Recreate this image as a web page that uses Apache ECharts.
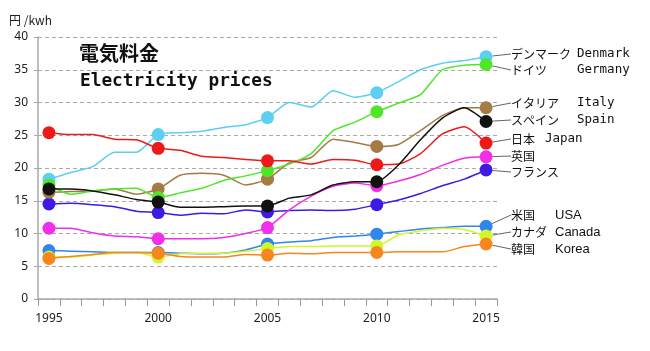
<!DOCTYPE html>
<html>
<head>
<meta charset="utf-8">
<script src="https://cdn.jsdelivr.net/npm/echarts@6/dist/echarts.min.js"></script>
<style>
html, body { margin: 0; padding: 0; background: #fff; }
#main { width: 650px; height: 351px; }
</style>
</head>
<body>
<div id="main"></div>
<script>
// data (円/kWh)
const years = ['1995','1996','1997','1998','1999','2000','2001','2002','2003','2004','2005',
  '2006','2007','2008','2009','2010','2011','2012','2013','2014','2015'];
const yTicks = { min: 0, max: 40, step: 5 };

const jpNames = ['デンマーク', 'ドイツ', 'イタリア', 'スペイン', '日本', '英国', 'フランス', '米国', 'カナダ', '韓国'];
const enNames = ['Denmark', 'Germany', 'Italy', 'Spain', 'Japan', '', '', 'USA', 'Canada', 'Korea'];

const denmark = [18.3, 19.3, 20.2, 22.4, 22.4, 25.1, 25.4, 25.6, 26.2, 26.6, 27.7, 30.0, 29.3, 31.8, 30.8, 31.5, 33.2, 35.0, 36.0, 36.4, 37.0];
const germany = [17.4, 16.0, 16.5, 16.8, 16.9, 15.5, 16.2, 16.9, 18.1, 18.8, 19.6, 20.6, 22.2, 25.7, 27.0, 28.6, 29.9, 31.2, 35.0, 35.7, 35.8];
const italy   = [16.3, 16.4, 16.5, 16.8, 16.0, 16.8, 18.9, 19.2, 18.9, 17.4, 18.3, 20.8, 21.6, 24.4, 23.9, 23.3, 23.6, 25.7, 28.0, 29.2, 29.2];
const spain   = [16.8, 16.8, 16.5, 15.9, 15.2, 14.8, 14.0, 14.0, 14.1, 14.2, 14.2, 15.4, 15.9, 17.4, 17.9, 17.9, 20.5, 24.3, 27.6, 29.2, 27.1];
const japan   = [25.4, 25.1, 25.1, 24.4, 24.3, 23.0, 22.7, 21.8, 21.6, 21.3, 21.1, 21.1, 20.6, 21.3, 21.2, 20.5, 20.6, 22.2, 25.2, 26.3, 23.8];
const uk      = [10.8, 10.8, 10.1, 9.6, 9.5, 9.2, 9.2, 9.2, 9.4, 10.0, 10.9, 13.6, 15.7, 17.2, 17.7, 17.3, 18.0, 19.0, 20.4, 21.5, 21.7];
const france  = [14.5, 14.6, 14.4, 14.1, 13.4, 13.2, 12.8, 13.1, 13.0, 13.6, 13.3, 13.5, 13.6, 13.5, 13.7, 14.4, 15.1, 16.1, 17.3, 18.3, 19.7];
const usa     = [7.4, 7.3, 7.2, 7.1, 7.1, 7.1, 7.0, 6.9, 7.0, 7.5, 8.4, 8.7, 8.9, 9.4, 9.6, 9.9, 10.3, 10.7, 10.9, 11.1, 11.1];
const canada  = [6.4, 6.4, 6.7, 7.0, 7.1, 6.4, 6.9, 7.0, 7.0, 7.3, 7.7, 8.0, 8.0, 8.1, 8.1, 8.1, 9.8, 10.4, 10.8, 10.6, 9.6];
const korea   = [6.2, 6.5, 6.8, 7.1, 7.1, 7.0, 6.5, 6.4, 6.4, 6.8, 6.7, 7.0, 6.9, 7.1, 7.1, 7.1, 7.2, 7.2, 7.2, 8.0, 8.4];

const allData = [denmark, germany, italy, spain, japan, uk, france, usa, canada, korea];

// styles
const colors = ['#5ccff2', '#4fe62a', '#a57a45', '#111111', '#ee1a1a', '#f22ee8', '#3d1ae6', '#2f86ec', '#d2f52b', '#f7861f'];
const zOrder = [3, 4, 3, 6, 5, 2, 1, 7, 8, 9];
const labelY = [54, 70, 103, 120, 139, 156, 172, 215, 232, 249];
const jpWidth = [66, 66, 66, 66, 34, 40, 40, 44, 44, 44];
const monoEn = [true, true, true, true, true, false, false, false, false, false];

const chart = echarts.init(document.getElementById('main'));

const series = allData.map((vals, i) => ({
  name: jpNames[i],
  type: 'line',
  z: zOrder[i],
  smooth: 0.2,
  showAllSymbol: true,
  symbol: (v, p) => (p.dataIndex % 5 === 0 ? 'circle' : 'none'),
  symbolSize: 13,
  lineStyle: { color: colors[i], width: 1.5 },
  itemStyle: { color: colors[i] },
  emphasis: { disabled: true },
  label: { show: false },
  labelLine: { show: true, lineStyle: { color: '#666', width: 1 } },
  labelLayout: () => ({ x: 511, y: labelY[i], align: 'left', verticalAlign: 'middle' }),
  data: vals.map((v, j) => j === vals.length - 1 ? {
    value: v,
    label: {
      show: true,
      formatter: enNames[i] ? '{jp|' + jpNames[i] + '}{en|' + enNames[i] + '}' : '{jp|' + jpNames[i] + '}',
      rich: {
        jp: { fontFamily: 'Noto Sans CJK JP', fontSize: 12, color: '#111', width: jpWidth[i] },
        en: monoEn[i]
          ? { fontFamily: 'DejaVu Sans Mono', fontSize: 12.5, color: '#111' }
          : { fontFamily: 'Liberation Sans', fontSize: 13, color: '#111' }
      }
    }
  } : v)
}));

const option = {
  backgroundColor: '#fff',
  animation: false,
  title: [
    { text: '円 /kwh', left: 4, top: 9, textStyle: { fontFamily: 'Noto Sans CJK JP', fontSize: 12, fontWeight: 'normal', color: '#222' } },
    { text: '電気料金', left: 74, top: 38, textStyle: { fontFamily: 'Noto Sans CJK JP', fontSize: 20, fontWeight: 'bold', color: '#111' } },
    { text: 'Electricity prices', left: 75, top: 67, textStyle: { fontFamily: 'DejaVu Sans Mono', fontSize: 17.8, fontWeight: 'bold', color: '#111' } }
  ],
  grid: { left: 38, right: 153, top: 37, bottom: 52 },
  xAxis: {
    type: 'category',
    data: years,
    boundaryGap: true,
    axisLine: { lineStyle: { color: '#aaa', width: 1.5 } },
    axisTick: { show: true, interval: 0, length: 7, lineStyle: { color: '#999' } },
    axisLabel: { interval: 4, margin: 14, fontFamily: 'Noto Sans', fontSize: 12, color: '#222' },
    splitLine: { show: false }
  },
  yAxis: {
    type: 'value',
    min: yTicks.min,
    max: yTicks.max,
    interval: yTicks.step,
    axisLine: { show: true, lineStyle: { color: '#aaa', width: 1.5 } },
    axisTick: { show: true, length: 4, lineStyle: { color: '#aaa' } },
    axisLabel: { margin: 10, fontFamily: 'Noto Sans', fontSize: 12, color: '#222' },
    splitLine: { lineStyle: { color: '#aaa', type: [4, 3] } }
  },
  series: series
};

chart.setOption(option);
</script>
</body>
</html>
